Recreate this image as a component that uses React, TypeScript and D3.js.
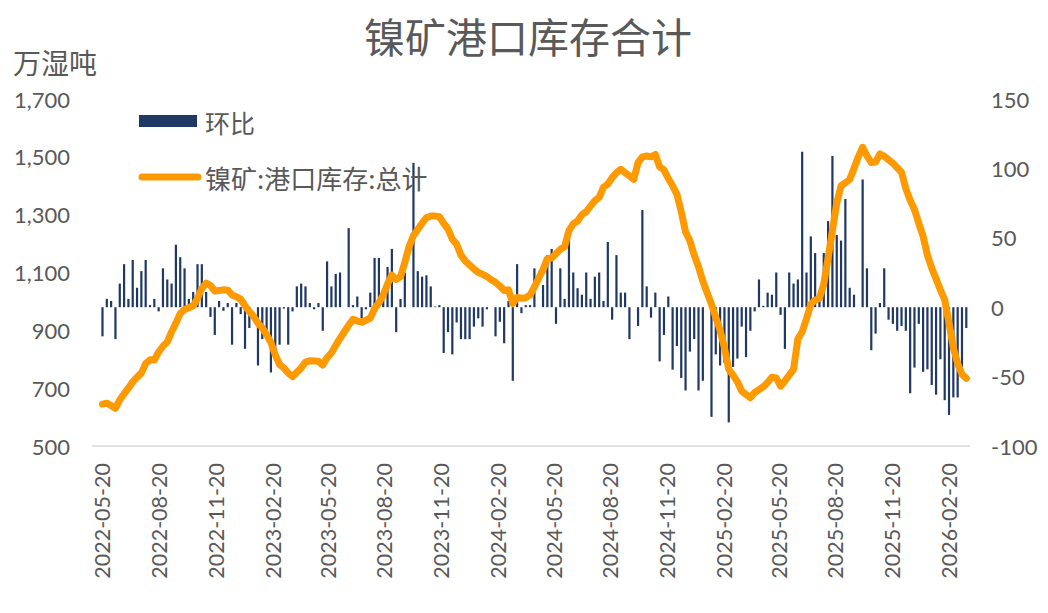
import React from 'react';
import * as d3 from 'd3';

// weekly data, first week 2022-05-20
const startDate = '2022-05-20';

// 镍矿:港口库存:总计 (万湿吨), left axis
const inventory = [
  645, 648, 640, 630, 660, 680, 700, 722, 738, 752,
  785, 798, 797, 825, 845, 860, 895, 925, 958, 972,
  978, 985, 1010, 1045, 1063, 1055, 1036, 1038, 1040, 1039,
  1022, 1016, 1008, 985, 965, 948, 925, 908, 885, 858,
  815, 782, 770, 752, 740, 755, 770, 790, 795, 794,
  793, 780, 806, 822, 848, 872, 895, 918, 938, 932,
  928, 935, 942, 975, 995, 1022, 1060, 1091, 1076, 1085,
  1135, 1190, 1228, 1249, 1270, 1290, 1295, 1295, 1293, 1270,
  1250, 1215, 1198, 1160, 1140, 1126, 1112, 1100, 1094, 1086,
  1075, 1066, 1053, 1038, 1040, 993, 1014, 1011, 1013, 1022,
  1050, 1080, 1110, 1148, 1150, 1165, 1180, 1190, 1245, 1268,
  1278, 1300, 1310, 1330, 1348, 1360, 1395, 1406, 1428, 1445,
  1457, 1445, 1434, 1422, 1480, 1500, 1503, 1500, 1508, 1465,
  1455, 1425, 1400, 1370, 1310, 1240, 1210, 1160, 1120, 1070,
  1030, 990, 945, 900, 840, 765, 745, 722, 690, 678,
  667, 685, 695, 705, 720, 738, 735, 707, 725, 745,
  765, 870, 895, 940, 990, 1005, 1010, 1060, 1150, 1245,
  1340, 1400, 1410, 1422, 1460, 1500, 1533, 1503, 1480, 1482,
  1510, 1502, 1490, 1478, 1462, 1447, 1390, 1350, 1318, 1270,
  1225, 1160, 1115, 1078, 1040, 1005, 925, 840, 785, 748,
  734,
];

// 环比, right axis
const weeklyChange = [
  -21, 6, 4.5, -23, 17, 31, 6, 34, 14, 26,
  34, 1.5, 6, -3, 28, 20, 17, 45, 36, 28,
  6, 11, 31, 31, 11, -7, -20, 4.5, -2.6, 3,
  -27, 3, -5, -30, -15, 0, -42, -23, -23, -47,
  -37, -27, -1, -27, -3, 15, 17, 15, 3, -1.5,
  3, -17, 33, 15, 24, 25, 0, 57, 1.5, 7.7,
  -8, -1.5, 10.5, 35.5, 35.5, 7.7, 29, 42, -18, 6,
  25, 0, 104, 26, 22, 23, 15, 0.5, 1.5, -33,
  -18, -34, -11, -23, -23, -23, -14, -8, -14, -1.5,
  0, -21, -10.5, -26, 4.5, -53, 31, -4.3, 1.5, 1.5,
  28, 0, 16, 37.5, 42, -12, 28, 6, 57, 25,
  13.7, 9, 25, 6, 22, 25, 4.5, 47, -9, 37.5,
  10.5, 10.5, -23, 0, -13.5, 70, 15, -7.5, 10.5, -39,
  -20, 7.7, -45, -28, -51, -60, -32, -23, -60, -53,
  0, -79, -34, -42, -40, -83, -43, -37, -14, -36,
  -17, -3, 20, 1, 10.5, 9, 25, -5.5, -30, 25,
  17, 20, 112, 25, 51, 39, 4.3, 39, 62, 109,
  52, 48, 78, 14, 9, 0, 92, 28, -31, -19,
  3, 28, -9, -12, -17, -13.5, -17, -62, -43.5, -12,
  -46.5, -44.7, -56, -63, -37.5, -67, -77.6, -65, -65, -49,
  -15,
];

const xTickLabels = [
  '2022-05-20', '2022-08-20', '2022-11-20', '2023-02-20', '2023-05-20',
  '2023-08-20', '2023-11-20', '2024-02-20', '2024-05-20', '2024-08-20',
  '2024-11-20', '2025-02-20', '2025-05-20', '2025-08-20', '2025-11-20',
  '2026-02-20',
];
const leftTicks = [500, 700, 900, 1100, 1300, 1500, 1700];
const rightTicks = [-100, -50, 0, 50, 100, 150];

const W = 1048;
const H = 613;
const plot = { left: 92, right: 970, top: 99, bottom: 446 };
const font = "'Noto Sans CJK SC', 'Noto Sans', sans-serif";
const numFont = "Lato, 'Noto Sans', sans-serif";
const textColor = '#595959';
const navy = '#203864';
const orange = '#FF9900';

const parse = d3.utcParse('%Y-%m-%d');
const start = parse(startDate) as Date;
const dates = inventory.map((_, i) => d3.utcDay.offset(start, i * 7));

export default function App() {
  const x = d3
    .scaleUtc()
    .domain([parse('2022-05-03') as Date, parse('2026-03-26') as Date])
    .range([plot.left, plot.right]);
  const yL = d3.scaleLinear().domain([500, 1700]).range([plot.bottom, plot.top]);
  const yR = d3.scaleLinear().domain([-100, 150]).range([plot.bottom, plot.top]);
  const fmt = d3.format(',');

  const line = d3
    .line<number>()
    .x((_, i) => x(dates[i]))
    .y((d) => yL(d));

  return (
    <svg width={W} height={H} style={{ position: 'absolute', left: 0, top: 0, background: '#fff' }}>
      <text x={528} y={35} textAnchor="middle" dominantBaseline="central" fontFamily={font} fontSize={41} fill={textColor}>
        镍矿港口库存合计
      </text>
      <text x={13} y={62} dominantBaseline="central" fontFamily={font} fontSize={28} fill={textColor}>
        万湿吨
      </text>

      {leftTicks.map((t) => (
        <text key={'l' + t} x={70} y={yL(t)} textAnchor="end" dominantBaseline="central" fontFamily={numFont} fontSize={22} fill={textColor}>
          {fmt(t)}
        </text>
      ))}
      {rightTicks.map((t) => (
        <text key={'r' + t} x={991} y={yR(t)} dominantBaseline="central" fontFamily={numFont} fontSize={22} fill={textColor}>
          {t}
        </text>
      ))}

      <line x1={plot.left} x2={plot.right} y1={plot.bottom} y2={plot.bottom} stroke="#d9d9d9" strokeWidth={1.5} />

      {xTickLabels.map((t) => {
        const px = x(parse(t) as Date);
        return (
          <text
            key={t}
            transform={`translate(${px},${463}) rotate(-90)`}
            textAnchor="end"
            dominantBaseline="central"
            fontFamily={numFont}
            fontSize={21.5}
            fill={textColor}
          >
            {t}
          </text>
        );
      })}

      {weeklyChange.map((v, i) =>
        v === 0 ? null : (
          <rect
            key={'b' + i}
            x={x(dates[i]) - 1.1}
            width={2.2}
            y={Math.min(yR(v), yR(0))}
            height={Math.abs(yR(v) - yR(0))}
            fill={navy}
          />
        )
      )}

      <path d={line(inventory) || ''} fill="none" stroke={orange} strokeWidth={7} strokeLinejoin="round" strokeLinecap="round" />

      <rect x={139} y={115} width={58} height={12} fill={navy} />
      <text x={205} y={122} dominantBaseline="central" fontFamily={font} fontSize={25} fill={textColor}>
        环比
      </text>
      <line x1={142} x2={198} y1={177} y2={177} stroke={orange} strokeWidth={7} strokeLinecap="round" />
      <text x={205} y={177} dominantBaseline="central" fontFamily={font} fontSize={26} fill={textColor}>
        镍矿:港口库存:总计
      </text>
    </svg>
  );
}
